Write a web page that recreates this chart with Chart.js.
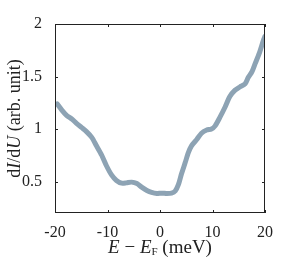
<!DOCTYPE html>
<html>
<head>
<meta charset="utf-8">
<script src="https://cdn.jsdelivr.net/npm/chart.js@4/dist/chart.umd.min.js"></script>
<style>
html,body{margin:0;padding:0;background:#fff;}
#wrap{width:290px;height:271px;}
</style>
</head>
<body>
<div id="wrap"><canvas id="c" width="290" height="271"></canvas></div>
<script>
// energy (meV) and dI/dU
const energy=[-19.6,-18.7,-17.8,-16.8,-15.9,-14.9,-14.0,-13.0,-12.1,-11.1,-10.2,-9.2,-8.3,-7.3,-6.4,-5.4,-4.4,-3.5,-2.5,-1.6,-0.6,0.3,1.3,2.2,2.9,3.5,4.1,4.8,5.4,6.0,7.0,7.9,8.9,9.8,10.5,11.4,12.4,13.3,14.3,15.2,16.2,16.8,17.5,18.1,18.9,19.7,20.0];
const dIdU=[1.24,1.18,1.13,1.095,1.054,1.013,0.975,0.92,0.84,0.75,0.65,0.56,0.51,0.484,0.487,0.494,0.48,0.446,0.415,0.396,0.386,0.389,0.386,0.389,0.41,0.47,0.573,0.68,0.775,0.84,0.90,0.96,0.99,1.0,1.03,1.11,1.21,1.31,1.37,1.40,1.43,1.49,1.544,1.62,1.72,1.845,1.883];
const xTicks=[-20,-10,0,10,20];
const yTicks=[0.5,1,1.5,2];

const FONT='"Liberation Serif","DejaVu Serif",serif';
const INK='#222';

// box, inward ticks and the two axis titles with italic parts
const frame={
  id:'frame',
  afterDraw(chart){
    const {ctx,chartArea:a,scales:{x,y}}=chart;
    ctx.save();
    ctx.strokeStyle=INK;ctx.lineWidth=1;
    ctx.strokeRect(a.left+0.5,a.top+0.5,a.right-a.left-1,a.bottom-a.top-1);
    ctx.beginPath();
    xTicks.forEach(v=>{const p=Math.round(x.getPixelForValue(v))+0.5;
      ctx.moveTo(p,a.bottom);ctx.lineTo(p,a.bottom-3);ctx.moveTo(p,a.top);ctx.lineTo(p,a.top+3);});
    yTicks.forEach(v=>{const p=Math.round(y.getPixelForValue(v))+0.5;
      ctx.moveTo(a.left,p);ctx.lineTo(a.left+3,p);ctx.moveTo(a.right,p);ctx.lineTo(a.right-3,p);});
    ctx.stroke();

    const segs=(parts)=>{ // [text, italic, size, dy]
      let w=0;
      parts.forEach(p=>{ctx.font=(p[1]?'italic ':'')+p[2]+'px '+FONT;p.w=ctx.measureText(p[0]).width;w+=p.w;});
      return w;
    };
    const draw=(parts,cx,cy)=>{
      const w=segs(parts);let px=cx-w/2;
      ctx.fillStyle=INK;ctx.textBaseline='middle';ctx.textAlign='left';
      parts.forEach(p=>{ctx.font=(p[1]?'italic ':'')+p[2]+'px '+FONT;ctx.fillText(p[0],px,cy+(p[3]||0));px+=p.w;});
    };
    draw([['E',true,19],[' \u2212 ',false,19],['E',true,19],['F',false,11,4],[' (meV)',false,19]],(a.left+a.right)/2,248);
    ctx.translate(15,(a.top+a.bottom)/2);
    ctx.rotate(-Math.PI/2);
    draw([['d',false,18],['I',true,18],['/d',false,18],['U',true,18],[' (arb. unit)',false,18]],0,0);
    ctx.restore();
  }
};

new Chart(document.getElementById('c').getContext('2d'),{
  type:'line',
  data:{datasets:[{
    data:energy.map((e,i)=>({x:e,y:dIdU[i]})),
    borderColor:'#8da3b4',borderWidth:5,pointRadius:0,tension:0.25,
    borderCapStyle:'round',borderJoinStyle:'round',fill:false
  }]},
  options:{
    responsive:false,animation:false,
    layout:{padding:{top:24,right:25,left:0,bottom:0}},
    plugins:{legend:{display:false},tooltip:{enabled:false}},
    scales:{
      x:{type:'linear',min:-20,max:20,
        afterBuildTicks:s=>{s.ticks=xTicks.map(v=>({value:v}));},
        afterFit:s=>{s.height=58;},
        grid:{display:false},border:{display:false},
        ticks:{color:INK,font:{family:FONT,size:16},padding:2,maxRotation:0,callback:v=>String(v)}},
      y:{min:0.2,max:2,
        afterBuildTicks:s=>{s.ticks=yTicks.map(v=>({value:v}));},
        afterFit:s=>{s.width=55;},
        grid:{display:false},border:{display:false},
        ticks:{color:INK,font:{family:FONT,size:16},padding:5,callback:v=>String(v)}}
    }
  },
  plugins:[frame]
});
</script>
</body>
</html>
